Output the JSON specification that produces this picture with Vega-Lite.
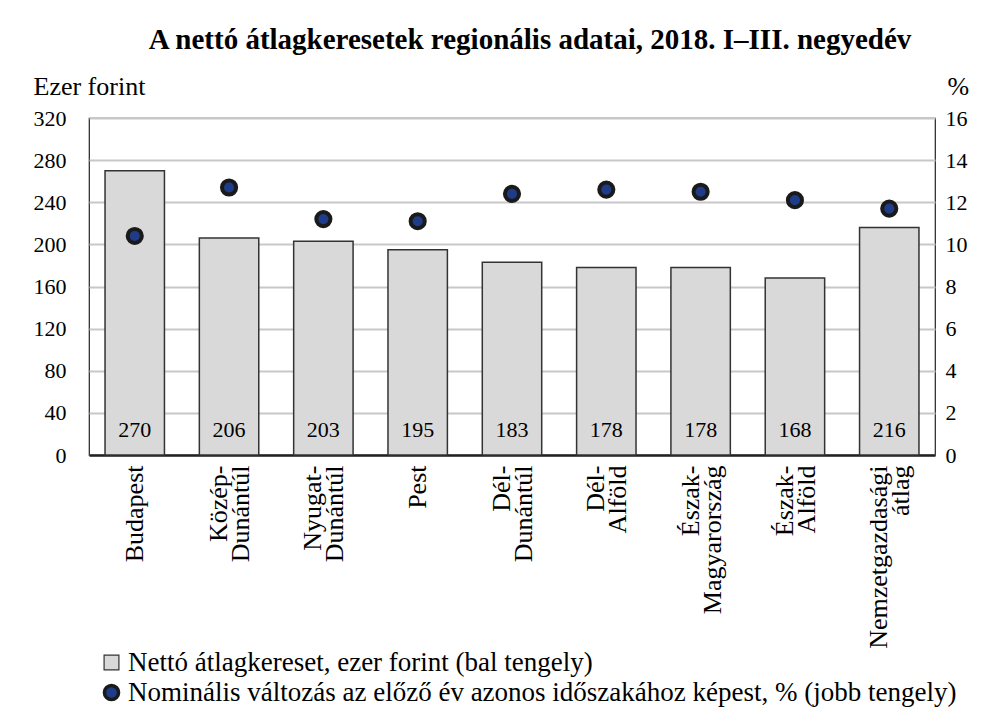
{
  "$schema": "https://vega.github.io/schema/vega-lite/v6.json",
  "width": 846,
  "height": 337,
  "autosize": {"type": "none"},
  "padding": {"left": 89, "top": 118, "right": 48, "bottom": 273},
  "background": "white",
  "title": {
    "text": "A nettó átlagkeresetek regionális adatai, 2018. I–III. negyedév",
    "font": "'Liberation Serif', 'DejaVu Serif', serif",
    "fontSize": 29,
    "fontWeight": "bold",
    "color": "black",
    "anchor": "middle",
    "dx": 18,
    "offset": 18
  },
  "config": {
    "font": "'Liberation Serif', 'DejaVu Serif', serif",
    "view": {"stroke": "#222222", "strokeWidth": 1.2},
    "axis": {
      "labelFont": "'Liberation Serif', 'DejaVu Serif', serif",
      "labelFontSize": 22,
      "labelColor": "black",
      "titleFont": "'Liberation Serif', 'DejaVu Serif', serif",
      "titleFontSize": 26,
      "titleFontWeight": "normal",
      "titleColor": "black",
      "ticks": false
    },
    "legend": {
      "labelFont": "'Liberation Serif', 'DejaVu Serif', serif",
      "labelFontSize": 27,
      "labelColor": "black",
      "labelLimit": 900
    }
  },
  "data": {
    "values": [
      {"region": "Budapest", "ber": 270, "valt": 10.4},
      {"region": "Közép-|Dunántúl", "ber": 206, "valt": 12.7},
      {"region": "Nyugat-|Dunántúl", "ber": 203, "valt": 11.2},
      {"region": "Pest", "ber": 195, "valt": 11.1},
      {"region": "Dél-|Dunántúl", "ber": 183, "valt": 12.4},
      {"region": "Dél-|Alföld", "ber": 178, "valt": 12.6},
      {"region": "Észak-|Magyarország", "ber": 178, "valt": 12.5},
      {"region": "Észak-|Alföld", "ber": 168, "valt": 12.1},
      {"region": "Nemzetgazdasági|átlag", "ber": 216, "valt": 11.7}
    ]
  },
  "encoding": {
    "x": {
      "field": "region",
      "type": "nominal",
      "sort": null,
      "scale": {"paddingInner": 0.37, "paddingOuter": 0.17},
      "axis": {
        "title": null,
        "labelAngle": -90,
        "labelAlign": "right",
        "labelBaseline": "middle",
        "labelPadding": 10,
        "labelFontSize": 26,
        "labelLineHeight": 22,
        "labelOffset": {"expr": "indexof(datum.value, '|') >= 0 ? -10 : 0"},
        "labelExpr": "split(datum.label, '|')",
        "domainColor": "#222222",
        "domainWidth": 2.5,
        "labelLimit": 300
      }
    }
  },
  "layer": [
    {
      "layer": [
        {
          "mark": {"type": "bar", "stroke": "#333333", "strokeWidth": 1.5},
          "encoding": {
            "y": {
              "field": "ber",
              "type": "quantitative",
              "scale": {"domain": [0, 320], "nice": false, "zero": true},
              "axis": {
                "values": [0, 40, 80, 120, 160, 200, 240, 280, 320],
                "title": "Ezer forint",
                "titleAngle": 0,
                "titleAlign": "left",
                "titleBaseline": "alphabetic",
                "titleX": -56,
                "titleY": -24,
                "labelPadding": 23,
                "domain": false,
                "grid": true,
                "gridColor": "#c8c8c8",
                "gridWidth": 1.8
              }
            },
            "fill": {
              "datum": "Nettó átlagkereset, ezer forint (bal tengely)",
              "scale": {"range": ["#d9d9d9"]},
              "legend": {
                "title": null,
                "orient": "none",
                "legendX": 9,
                "legendY": 531,
                "symbolType": "square",
                "symbolSize": 220,
                "symbolStrokeColor": "#333333",
                "symbolStrokeWidth": 1.2,
                "labelOffset": 3
              }
            }
          }
        },
        {
          "mark": {"type": "text", "fontSize": 22, "font": "'Liberation Serif', 'DejaVu Serif', serif", "color": "black", "baseline": "alphabetic", "dy": -18},
          "encoding": {
            "y": {"datum": 0, "type": "quantitative", "scale": {"domain": [0, 320], "nice": false}},
            "text": {"field": "ber", "type": "quantitative"}
          }
        }
      ]
    },
    {
      "mark": {"type": "point", "filled": true, "fill": "#1f3c88", "strokeWidth": 4, "size": 200, "opacity": 1},
      "encoding": {
        "y": {
          "field": "valt",
          "type": "quantitative",
          "scale": {"domain": [0, 16], "nice": false},
          "axis": {
            "orient": "right",
            "values": [0, 2, 4, 6, 8, 10, 12, 14, 16],
            "title": "%",
            "titleAngle": 0,
            "titleAlign": "left",
            "titleBaseline": "alphabetic",
            "titleX": 12,
            "titleY": -24,
            "labelPadding": 10,
            "domain": false,
            "grid": false
          }
        },
        "stroke": {
          "datum": "Nominális változás az előző év azonos időszakához képest, % (jobb tengely)",
          "scale": {"range": ["#1a1a1a"]},
          "legend": {
            "title": null,
            "orient": "none",
            "legendX": 9,
            "legendY": 561,
            "symbolType": "circle",
            "symbolSize": 200,
            "symbolFillColor": "#1f3c88",
            "symbolStrokeWidth": 3.5,
            "labelOffset": 3
          }
        }
      }
    }
  ],
  "resolve": {"scale": {"y": "independent"}}
}
